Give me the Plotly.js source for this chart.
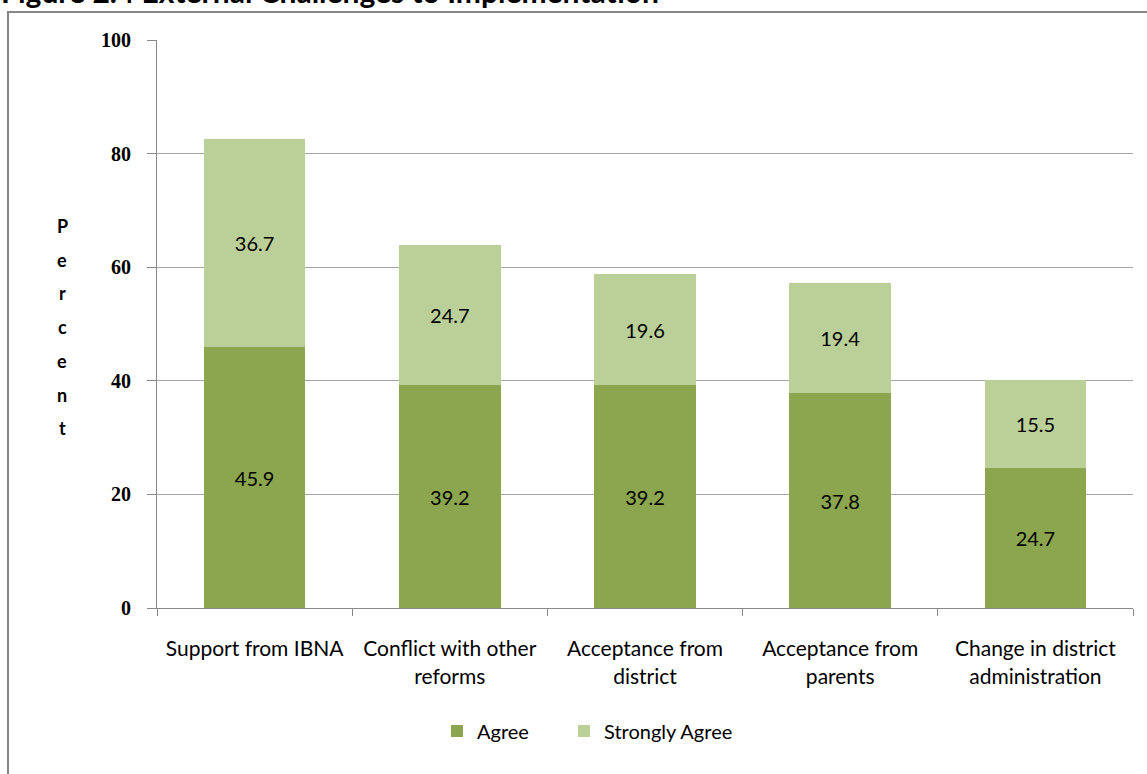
<!DOCTYPE html>
<html>
<head>
<meta charset="utf-8">
<script src="https://cdn.plot.ly/plotly-3.0.1.min.js"></script>
<style>html,body{margin:0;padding:0;background:#fff;overflow:hidden}#chart{width:1147px;height:774px}</style>
</head>
<body>
<div id="chart"></div>
<script>
const categories = ["Support from IBNA", "Conflict with other<br>reforms", "Acceptance from<br>district", "Acceptance from<br>parents", "Change in district<br>administration"];
const agree = [45.9, 39.2, 39.2, 37.8, 24.7];
const stronglyAgree = [36.7, 24.7, 19.6, 19.4, 15.5];
const yTicks = [0, 20, 40, 60, 80, 100];
const figTitle = "Figure 2.4 External Challenges to Implementation";
const yTitle = "Percent";

const FAM = "Lato, 'Open Sans', sans-serif";
const valueFont = {family: FAM, size: 20, color: "#000"};
const catFont = {family: FAM, size: 21, color: "#000"};
const legendFont = {family: FAM, size: 20, color: "#000"};

const traces = [
  {type: "bar", name: "Agree", x: categories, y: agree, marker: {color: "#8BA64F"},
   text: agree.map(v => v.toFixed(1)), textposition: "inside", insidetextanchor: "middle",
   textfont: valueFont, hoverinfo: "none", constraintext: "none", legend: "legend"},
  {type: "bar", name: "Strongly Agree", x: categories, y: stronglyAgree, marker: {color: "#BBCF99"},
   text: stronglyAgree.map(v => v.toFixed(1)), textposition: "inside", insidetextanchor: "middle",
   textfont: valueFont, hoverinfo: "none", constraintext: "none", legend: "legend2"}
];

const L = 157, R = 1133, T = 40, B = 608;
const px2x = p => (p - L) / (R - L);
const px2y = p => (B - p) / (B - T);

const annotations = [
  {xref: "paper", yref: "paper", x: px2x(-1), y: px2y(11), xanchor: "left", yanchor: "bottom",
   text: "<b>" + figTitle + "</b>", showarrow: false,
   font: {family: FAM, size: 30, color: "#000"}}
];
const letters = yTitle.split("");
letters.forEach((ch, i) => {
  annotations.push({xref: "paper", yref: "paper", x: px2x(62), y: px2y(226 + i * 33.7),
    xanchor: "center", yanchor: "middle", text: "<b>" + ch + "</b>", showarrow: false,
    font: {family: FAM, size: 18, color: "#000"}});
});

const legendBase = {orientation: "h", yanchor: "middle", y: px2y(731), xanchor: "left",
  font: legendFont, itemwidth: 30, bgcolor: "rgba(0,0,0,0)"};

const layout = {
  width: 1147, height: 774,
  margin: {l: L, r: 1147 - R, t: T, b: 774 - B, pad: 0},
  paper_bgcolor: "#fff", plot_bgcolor: "#fff",
  barmode: "stack", bargap: 0.48,
  showlegend: true,
  legend: Object.assign({}, legendBase, {x: px2x(437)}),
  legend2: Object.assign({}, legendBase, {x: px2x(564)}),
  xaxis: {type: "category", tickson: "boundaries", ticks: "outside", ticklen: 7, tickcolor: "#888",
    showline: true, linecolor: "#888", linewidth: 1, showgrid: false, tickfont: catFont,
    ticklabelstandoff: 22, fixedrange: true},
  yaxis: {range: [0, 100], tickvals: yTicks, ticktext: yTicks.map(String), ticks: "outside", ticklen: 9,
    tickcolor: "#888", showline: true, linecolor: "#888", linewidth: 1,
    showgrid: true, gridcolor: "#a6a6a6", gridwidth: 1, zeroline: false,
    tickfont: {family: "'Liberation Serif', 'DejaVu Serif', serif", size: 20, color: "#000", weight: "bold"},
    ticklabelstandoff: 12, fixedrange: true},
  annotations: annotations,
  shapes: [
    {type: "rect", xref: "paper", yref: "paper", x0: px2x(8), x1: px2x(1200), y0: px2y(800), y1: px2y(12),
     line: {color: "#868686", width: 2}, fillcolor: "rgba(0,0,0,0)", layer: "below"}
  ]
};

Plotly.newPlot("chart", traces, layout, {staticPlot: true, displayModeBar: false});
</script>
</body>
</html>
